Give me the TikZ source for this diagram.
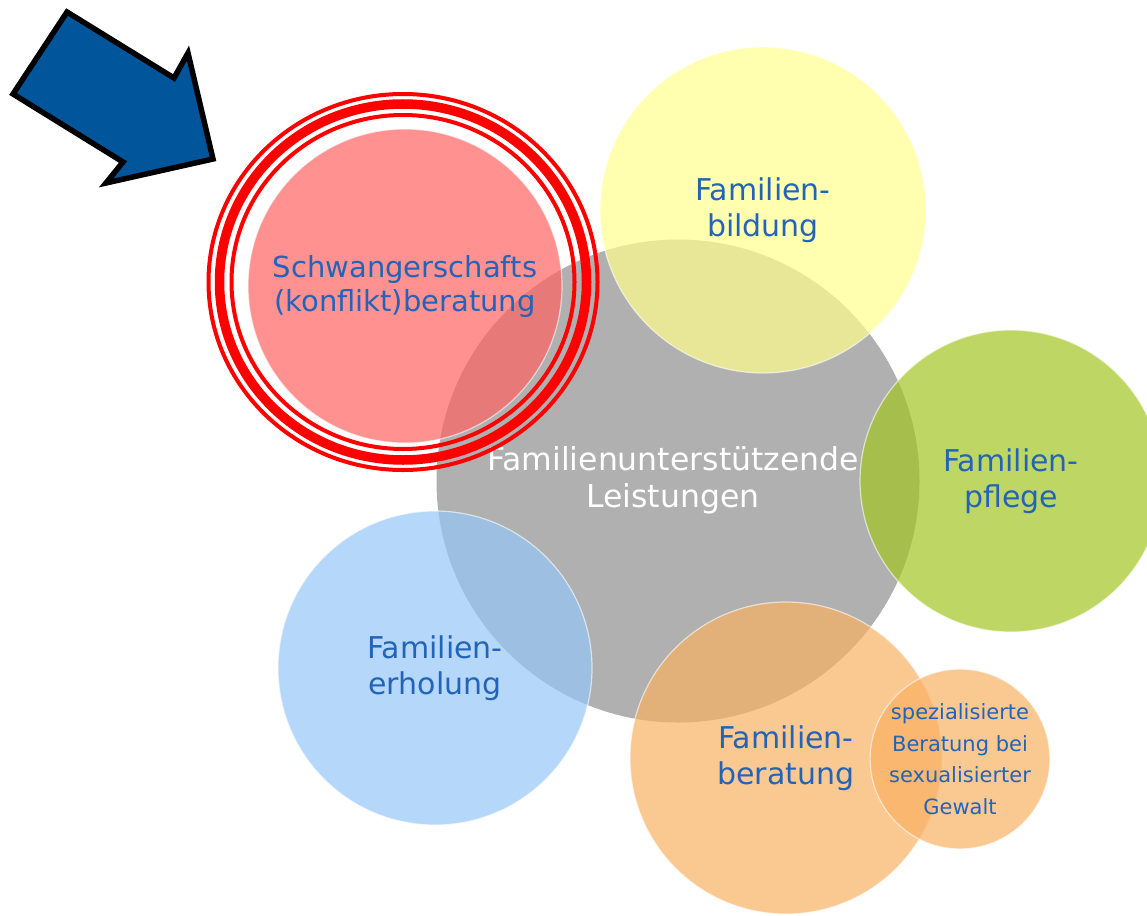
\documentclass[tikz,border=0pt]{standalone}
\usepackage{fontspec}
\setmainfont{DejaVu Sans}
\definecolor{txtblue}{RGB}{35,100,185}
\definecolor{cgray}{RGB}{176,176,176}
\definecolor{cyellow}{RGB}{255,255,141}
\definecolor{cgreen}{RGB}{162,198,34}
\definecolor{cblue}{RGB}{148,198,248}
\definecolor{corange}{RGB}{248,176,98}
\definecolor{cpink}{RGB}{255,98,98}
\definecolor{arrowblue}{RGB}{0,85,155}
\definecolor{ringred}{RGB}{255,0,0}
\begin{document}
\begin{tikzpicture}[x=1pt,y=-1pt,
  bub/.style={circle, inner sep=0pt, minimum size=#1, draw=white, draw opacity=0.6,
    line width=1.2pt, fill opacity=0.7, text opacity=1, align=center, text=txtblue,
    font=\fontsize{30pt}{36pt}\selectfont},
  ring/.style={draw=ringred, line width=#1},
  bigarrow/.style={fill=arrowblue, draw=black, line width=5.5pt, line join=miter}]
\useasboundingbox (0,0) rectangle (1147,915);
% central circle
\node[circle, inner sep=0pt, minimum size=483pt, fill=cgray] (center) at (678,481) {};
\node[text=white, align=center, inner sep=0pt,
  font=\fontsize{31.5pt}{37pt}\selectfont] (centertext) at ([xshift=-5pt,yshift=1pt]center.center)
  {Familienunterstützende\\Leistungen};
% surrounding circles
\node[bub=326pt, fill=cyellow] (bildung) at (763,210) {Familien-\\bildung};
\node[bub=302pt, fill=cgreen] (pflege) at (1011,481) {Familien-\\pflege};
\node[bub=314pt, fill=cblue] (erholung) at (435,668) {Familien-\\erholung};
\node[bub=312pt, fill=corange] (beratung) at (786,758) {Familien-\\beratung};
\node[bub=178pt, fill=corange, font=\fontsize{21pt}{31.5pt}\selectfont] (sex) at (960,759)
  {spezialisierte\\Beratung bei\\sexualisierter\\Gewalt};
\node[bub=314pt, fill=cpink, font=\fontsize{29pt}{34pt}\selectfont] (schwanger) at (405,286)
  {Schwangerschafts\\(konflikt)beratung};
% red rings
\coordinate (ringc) at (403,282);
\draw[ring=4pt] (ringc) ellipse [x radius=194.5pt, y radius=188pt];
\draw[ring=9.5pt] (ringc) ellipse [x radius=183.5pt, y radius=178pt];
\draw[ring=4pt] (ringc) ellipse [x radius=171.5pt, y radius=167pt];
% blue arrow
\draw[bigarrow] (67,12) -- (174,78) -- (188,53) -- (213,159) -- (106,183) -- (123,162) -- (13,94) -- cycle;
\end{tikzpicture}
\end{document}
